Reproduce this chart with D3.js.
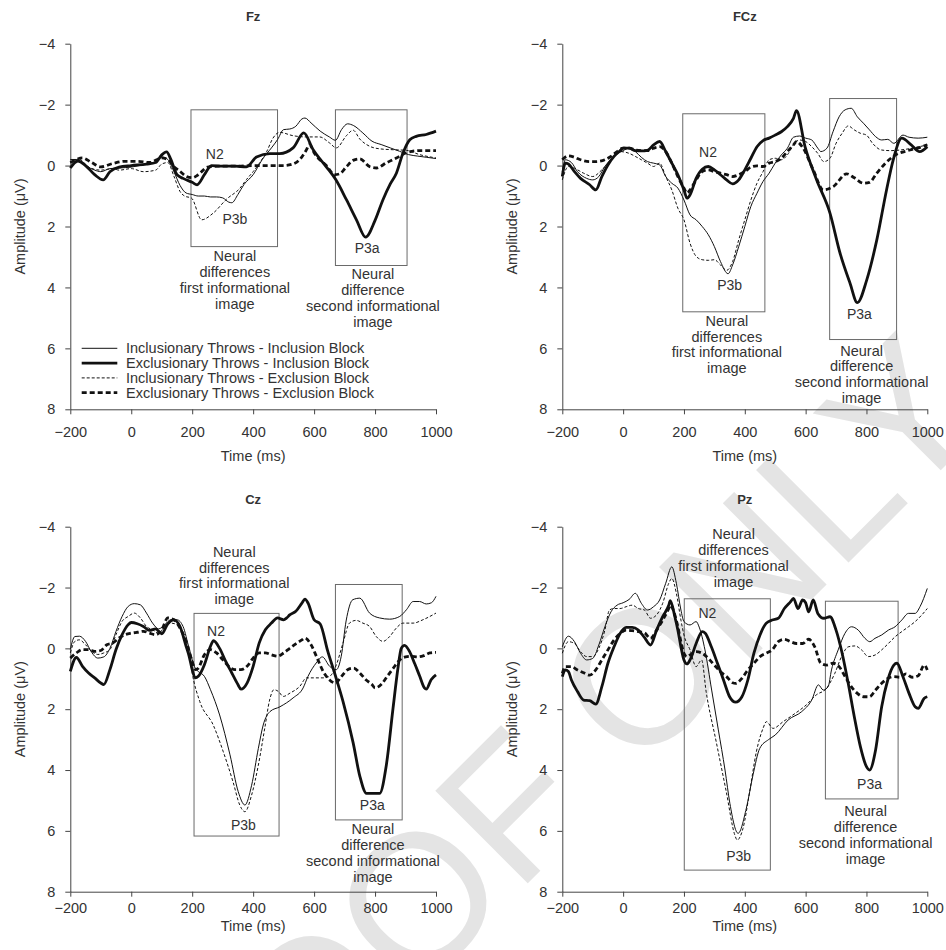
<!DOCTYPE html>
<html>
<head>
<meta charset="utf-8">
<script src="https://cdn.jsdelivr.net/npm/d3@7"></script>
<style>
  body { margin: 0; background: #fff; }
  text { font-family: "Liberation Sans", Arial, sans-serif; fill: #333; }
</style>
</head>
<body>
<svg id="chart" width="946" height="950"></svg>
<script>
// ---- data (time in ms, amplitude in µV; negative is plotted up) ----
const timeTicks = [-200, 0, 200, 400, 600, 800, 1000]
const ampTicks = [-4, -2, 0, 2, 4, 6, 8]
const seriesNames = [
  "Inclusionary Throws - Inclusion Block",
  "Exclusionary Throws - Inclusion Block",
  "Inclusionary Throws - Exclusion Block",
  "Exclusionary Throws - Exclusion Block"
]

// Fz
const fzIncInc = [[-200,-0.2],[-180,-0.2],[-150,0],[-120,0.15],[-100,0.2],[-70,0.1],[-40,0.08],[0,0.05],[50,-0.05],[80,-0.12],[100,-0.28],[120,-0.2],[140,0.2],[160,0.65],[180,0.9],[200,0.95],[220,1.0],[240,1.0],[260,1.03],[280,1.03],[300,1.06],[320,1.2],[330,1.22],[350,0.95],[370,0.62],[400,0.3],[430,-0.2],[460,-0.58],[480,-0.85],[500,-1.18],[520,-1.2],[540,-1.29],[560,-1.53],[570,-1.56],[590,-1.4],[620,-1.13],[650,-0.94],[670,-0.83],[690,-1.18],[710,-1.37],[730,-1.31],[760,-1.07],[790,-0.8],[820,-0.69],[850,-0.58],[880,-0.47],[910,-0.36],[940,-0.31],[970,-0.27],[1000,-0.23]]
const fzExcInc = [[-200,0.08],[-175,-0.15],[-150,0],[-120,0.3],[-92,0.47],[-70,0.2],[-40,0.05],[0,0],[50,-0.05],[80,-0.1],[100,-0.35],[116,-0.45],[130,-0.2],[150,0.3],[170,0.42],[200,0.55],[216,0.63],[240,0.3],[263,0],[300,0.02],[340,0.02],[378,0.04],[411,-0.28],[455,-0.39],[487,-0.39],[531,-0.58],[566,-1.07],[597,-0.52],[640,0.04],[671,0.46],[706,1.12],[739,1.78],[769,2.35],[800,1.8],[826,1.12],[850,0.6],[870,0.25],[892,-0.42],[914,-0.85],[935,-0.96],[968,-1.02],[1000,-1.13]]
const fzIncExc = [[-200,-0.1],[-170,-0.2],[-140,0.05],[-100,0.15],[-60,0.1],[-40,0.15],[0,0.1],[40,0.2],[80,0.15],[100,-0.05],[120,-0.1],[140,0.35],[160,0.85],[175,1.0],[198,1.07],[231,1.78],[269,1.56],[313,1.1],[356,0.75],[378,0.46],[400,0.2],[422,-0.1],[444,-0.45],[465,-0.9],[487,-1.09],[531,-0.98],[574,-0.94],[618,-0.94],[651,-0.74],[673,-0.58],[706,-0.98],[728,-1.16],[750,-0.87],[783,-0.63],[815,-0.55],[859,-0.52],[903,-0.5],[946,-0.36],[1000,-0.25]]
const fzExcExc = [[-200,-0.1],[-180,-0.2],[-160,-0.25],[-130,-0.1],[-100,0.04],[-60,-0.07],[-20,-0.14],[20,-0.14],[60,-0.1],[100,-0.25],[120,-0.2],[140,0.04],[160,0.19],[180,0.35],[200,0.4],[220,0.3],[250,0.05],[300,0.02],[350,0.02],[400,0],[450,0],[500,0],[530,-0.05],[553,-0.2],[574,-0.5],[585,-0.69],[600,-0.42],[640,0],[668,0.3],[684,0.27],[706,0.04],[728,-0.17],[750,-0.22],[783,0.04],[805,0.08],[837,-0.09],[870,-0.25],[903,-0.42],[946,-0.49],[1000,-0.49]]

// FCz
const fczIncInc = [[-200,0.2],[-190,-0.19],[-170,-0.1],[-150,0.2],[-120,0.42],[-100,0.47],[-80,0.36],[-60,0.03],[-30,-0.3],[0,-0.49],[20,-0.57],[40,-0.46],[60,-0.27],[80,-0.13],[100,-0.08],[120,-0.02],[140,0.36],[160,0.58],[180,0.74],[200,1.13],[220,1.62],[240,1.78],[260,2.0],[280,2.27],[300,2.66],[320,3.15],[345,3.55],[360,3.26],[380,2.66],[400,2.0],[420,1.34],[440,0.91],[460,0.52],[480,0.25],[500,-0.08],[520,-0.35],[540,-0.57],[560,-0.93],[580,-0.97],[600,-0.9],[620,-0.84],[640,-0.57],[650,-0.46],[670,-0.57],[690,-1.11],[710,-1.6],[730,-1.83],[750,-1.88],[770,-1.6],[790,-1.39],[810,-1.17],[830,-0.95],[850,-0.84],[870,-0.86],[890,-0.73],[920,-1.0],[940,-0.93],[970,-0.9],[1000,-0.93]]
const fczExcInc = [[-200,0.36],[-190,-0.08],[-180,-0.05],[-160,0.2],[-140,0.42],[-110,0.63],[-90,0.8],[-70,0.36],[-50,-0.02],[-30,-0.3],[-10,-0.49],[0,-0.57],[20,-0.57],[40,-0.49],[60,-0.48],[80,-0.5],[100,-0.68],[120,-0.79],[140,-0.46],[160,-0.08],[180,0.3],[200,0.8],[210,1.07],[220,0.96],[240,0.42],[260,0.12],[280,0.03],[300,0.14],[320,0.3],[340,0.47],[360,0.6],[380,0.47],[400,0.14],[420,-0.24],[440,-0.62],[460,-0.82],[480,-0.9],[500,-1.0],[520,-1.11],[540,-1.28],[560,-1.55],[570,-1.8],[598,-0.62],[636,0.47],[680,1.56],[713,2.87],[746,3.86],[770,4.5],[801,3.75],[834,2.44],[866,0.8],[888,-0.19],[916,-0.9],[947,-0.68],[975,-0.46],[1000,-0.62]]
const fczIncExc = [[-200,0.47],[-180,0.03],[-160,0.09],[-130,0.25],[-100,0.36],[-70,0.14],[-40,-0.19],[-10,-0.46],[20,-0.4],[40,-0.3],[60,-0.19],[80,-0.08],[100,0.03],[120,-0.08],[140,0.36],[160,0.8],[180,1.4],[200,1.78],[220,2.55],[240,2.98],[260,3.09],[280,3.11],[300,3.09],[320,3.26],[340,3.44],[360,3.15],[380,2.44],[400,1.78],[420,1.13],[440,0.58],[460,0.2],[480,-0.19],[500,-0.24],[520,-0.19],[540,-0.35],[560,-0.68],[580,-0.84],[600,-0.79],[620,-0.62],[640,-0.4],[660,-0.13],[680,-0.24],[700,-0.73],[720,-1.06],[740,-1.3],[760,-1.17],[780,-1.06],[800,-1.0],[820,-0.73],[850,-0.51],[880,-0.49],[910,-0.51],[950,-0.57],[1000,-0.68]]
const fczExcExc = [[-200,-0.19],[-180,-0.32],[-160,-0.27],[-140,-0.19],[-110,-0.13],[-90,-0.13],[-60,-0.19],[-40,-0.3],[-20,-0.46],[0,-0.57],[20,-0.57],[40,-0.51],[60,-0.49],[80,-0.49],[100,-0.57],[120,-0.62],[140,-0.46],[160,-0.08],[180,0.36],[200,0.74],[210,0.9],[220,0.8],[240,0.47],[260,0.2],[280,0.14],[300,0.2],[320,0.25],[340,0.3],[360,0.36],[380,0.3],[400,0.2],[420,0.05],[440,0.01],[460,0.03],[480,-0.08],[500,-0.13],[520,-0.24],[540,-0.46],[560,-0.68],[570,-0.79],[590,-0.6],[625,0.14],[658,0.8],[691,0.69],[735,0.27],[760,0.4],[790,0.58],[810,0.55],[834,0.25],[860,-0.05],[888,-0.3],[943,-0.51],[970,-0.58],[1000,-0.68]]

// Cz
const czIncInc = [[-200,0.04],[-185,-0.39],[-170,-0.4],[-150,-0.23],[-130,0.13],[-110,0.32],[-90,0.28],[-70,0],[-50,-0.56],[-30,-1.05],[-10,-1.38],[10,-1.47],[30,-1.43],[50,-1.16],[70,-0.83],[90,-0.64],[110,-0.78],[130,-0.94],[150,-0.94],[170,-0.72],[190,0],[210,0.65],[220,0.76],[240,0.92],[260,1.36],[290,2.19],[324,3.5],[351,4.71],[373,5.15],[395,4.5],[417,3.29],[433,2.52],[455,2.08],[488,1.92],[531,1.63],[564,1.3],[580,0.92],[607,0.48],[627,0.28],[651,0.59],[673,0.7],[689,0.26],[705,-0.9],[727,-1.6],[750,-1.65],[782,-1.16],[815,-1.0],[848,-0.96],[881,-1.05],[903,-1.27],[925,-1.54],[946,-1.54],[968,-1.46],[985,-1.5],[1000,-1.71]]
const czExcInc = [[-200,0.76],[-180,0.3],[-160,0.59],[-140,0.81],[-120,0.97],[-100,1.14],[-90,1.19],[-70,0.7],[-50,0.04],[-30,-0.45],[-10,-0.78],[0,-0.85],[20,-0.81],[40,-0.72],[60,-0.59],[80,-0.64],[100,-0.48],[120,-0.81],[140,-0.94],[160,-0.72],[180,-0.07],[190,0.26],[200,0.7],[210,0.97],[220,0.92],[240,0.54],[260,-0.07],[270,-0.25],[290,0],[310,0.43],[330,0.81],[350,1.19],[360,1.34],[380,1.14],[400,0.59],[420,-0.18],[440,-0.61],[460,-0.83],[480,-1.0],[500,-0.94],[510,-1.0],[520,-1.1],[540,-1.22],[560,-1.49],[570,-1.62],[580,-1.49],[600,-0.94],[620,-0.8],[645,0.1],[670,0.9],[695,1.75],[728,3.1],[750,4.2],[772,4.77],[815,4.77],[837,3.84],[859,1.97],[875,0.66],[886,0],[897,-0.1],[913,0.1],[930,0.5],[946,0.9],[962,1.3],[968,1.34],[984,1.03],[1000,0.87]]
const czIncExc = [[-200,0.15],[-185,-0.23],[-170,-0.28],[-150,-0.12],[-130,0.1],[-110,0.2],[-90,0.15],[-70,0.04],[-50,-0.45],[-30,-0.89],[-10,-1.05],[10,-1.16],[30,-1.0],[50,-0.72],[70,-0.61],[90,-0.5],[110,-0.72],[130,-0.83],[150,-0.78],[170,-0.5],[190,0.15],[200,0.81],[225,1.75],[269,2.52],[302,3.4],[334,4.39],[356,5.15],[373,5.37],[395,4.82],[417,3.84],[438,2.63],[454,1.7],[468,1.36],[482,1.41],[499,1.58],[521,1.47],[553,1.25],[575,0.97],[597,0.97],[629,0.97],[651,0.92],[673,0.54],[695,-0.18],[716,-0.83],[738,-0.92],[760,-0.83],[782,-0.72],[804,-0.39],[826,-0.23],[848,-0.39],[870,-0.67],[892,-0.83],[925,-0.83],[957,-0.94],[1000,-1.16]]
const czExcExc = [[-200,0.32],[-180,0.15],[-160,0.04],[-140,0.04],[-120,0.1],[-100,0.07],[-80,-0.12],[-60,-0.18],[-40,-0.34],[-20,-0.45],[0,-0.5],[20,-0.53],[40,-0.56],[60,-0.5],[80,-0.45],[100,-0.61],[120,-1.0],[140,-0.94],[160,-0.67],[180,-0.23],[200,0.43],[210,0.7],[220,0.65],[240,0.21],[260,0.04],[280,0.15],[300,0.37],[320,0.59],[340,0.7],[360,0.7],[380,0.59],[400,0.32],[420,0.15],[440,0.15],[460,0.21],[480,0.26],[500,0.15],[520,0],[540,-0.15],[560,-0.28],[570,-0.34],[590,-0.12],[610,0.32],[630,0.76],[650,1.03],[670,1.14],[690,0.92],[710,0.7],[730,0.65],[750,0.81],[770,1.03],[790,1.19],[800,1.3],[820,1.19],[840,0.92],[860,0.65],[880,0.39],[900,0.28],[920,0.26],[940,0.28],[960,0.24],[980,0.15],[1000,0.13]]

// Pz
const pzIncInc = [[-200,-0.05],[-180,-0.4],[-160,-0.22],[-140,0.16],[-120,0.38],[-100,0.33],[-80,-0.11],[-60,-0.71],[-40,-1.2],[-20,-1.42],[0,-1.5],[20,-1.61],[40,-1.81],[60,-1.48],[80,-1.26],[100,-1.37],[120,-1.59],[140,-2.14],[160,-2.68],[175,-2.14],[190,-1.26],[200,-0.88],[220,-0.77],[240,-0.88],[250,-0.7],[269,0.05],[291,1.37],[313,2.68],[335,4.0],[351,5.1],[378,6.08],[405,5.26],[427,4.16],[449,3.29],[478,3.0],[500,2.85],[543,2.35],[587,2.08],[620,1.7],[642,1.2],[658,1.37],[674,1.26],[685,0.71],[707,0.05],[729,-0.49],[751,-0.71],[773,-0.6],[795,-0.33],[811,-0.22],[828,-0.33],[850,-0.44],[872,-0.6],[894,-0.71],[916,-0.93],[938,-1.15],[960,-1.15],[976,-1.37],[1000,-1.97]]
const pzExcInc = [[-200,0.93],[-190,0.71],[-180,0.76],[-170,1.04],[-150,1.42],[-130,1.7],[-110,1.72],[-90,1.83],[-70,1.26],[-50,0.49],[-30,-0.05],[-10,-0.49],[10,-0.69],[30,-0.69],[50,-0.6],[70,-0.36],[90,-0.11],[110,-0.6],[130,-1.04],[150,-1.42],[155,-1.57],[170,-1.04],[180,-0.6],[190,-0.05],[200,0.38],[210,0.51],[220,0.38],[240,-0.16],[260,-0.55],[270,-0.5],[290,-0.05],[310,0.49],[330,1.04],[350,1.59],[370,1.77],[390,1.6],[410,1.04],[430,0.16],[450,-0.44],[470,-0.82],[490,-0.93],[510,-0.99],[530,-1.31],[550,-1.53],[560,-1.64],[575,-1.31],[590,-1.59],[600,-1.5],[610,-1.2],[625,-1.59],[640,-1.15],[660,-0.99],[680,-1.04],[700,-0.6],[720,0.16],[740,1.15],[760,2.25],[780,3.23],[800,3.89],[810,4.0],[830,3.34],[850,1.92],[870,1.04],[890,0.55],[900,0.49],[920,0.93],[940,1.48],[960,1.92],[970,1.97],[990,1.64],[1000,1.59]]
const pzIncExc = [[-200,0.16],[-180,-0.22],[-160,-0.16],[-140,0.11],[-120,0.27],[-100,0.27],[-80,0],[-60,-0.6],[-45,-1.26],[-30,-1.31],[-10,-1.31],[10,-1.37],[30,-1.42],[50,-1.31],[70,-1.26],[90,-0.99],[110,-1.1],[130,-1.48],[150,-2.14],[160,-2.3],[175,-1.81],[190,-0.93],[200,-0.44],[220,0.05],[240,0.6],[258,0.38],[273,1.43],[306,3.07],[339,4.71],[367,6.13],[375,6.3],[394,5.92],[416,4.71],[438,3.4],[460,2.63],[471,2.41],[493,2.63],[526,2.41],[558,2.19],[602,1.86],[635,1.53],[668,1.32],[696,0.82],[718,0.27],[740,-0.05],[762,-0.08],[784,0.05],[806,0.27],[828,0.22],[850,0.05],[872,-0.16],[894,-0.38],[916,-0.55],[938,-0.71],[960,-0.88],[982,-1.1],[1000,-1.31]]
const pzExcExc = [[-200,0.82],[-190,0.6],[-170,0.6],[-150,0.71],[-130,0.8],[-110,0.88],[-90,0.71],[-70,0.38],[-50,0.05],[-30,-0.27],[-10,-0.49],[10,-0.6],[30,-0.58],[50,-0.55],[70,-0.51],[90,-0.33],[110,-0.6],[130,-0.93],[150,-1.31],[155,-1.42],[170,-1.1],[180,-0.71],[190,-0.22],[200,0.16],[210,0.27],[220,0.22],[240,0.11],[260,0.16],[280,0.33],[300,0.55],[320,0.77],[340,0.93],[360,1.13],[370,1.15],[390,0.99],[410,0.71],[430,0.49],[450,0.27],[470,0.16],[490,0.05],[510,-0.22],[530,-0.3],[550,-0.22],[570,-0.16],[590,-0.16],[610,-0.3],[630,-0.05],[650,0.49],[670,0.55],[690,0.49],[710,0.6],[730,0.93],[750,1.26],[770,1.48],[790,1.59],[810,1.59],[830,1.37],[850,1.15],[870,0.99],[890,0.93],[910,0.95],[930,0.84],[950,0.95],[970,0.9],[990,0.55],[1000,0.71]]

// highlighted windows: [t start, t end, top µV, bottom µV]
const fzBoxes = [[196, 480, -1.83, 2.66], [670, 905, -1.83, 3.28]]
const fczBoxes = [[196, 466, -1.7, 4.8], [679, 899, -2.2, 5.71]]
const czBoxes = [[206, 485, -1.15, 6.17], [670, 889, -2.1, 5.64]]
const pzBoxes = [[201, 484, -1.63, 7.29], [665, 904, -1.55, 4.95]]

const firstWindowText = ["Neural", "differences", "first informational", "image"]
const secondWindowText = ["Neural", "difference", "second informational", "image"]

// ---- layout ----
const lineStyles = [
  { width: 1, dash: null },
  { width: 2.8, dash: null },
  { width: 1, dash: "3,2" },
  { width: 2.8, dash: "5,3" }
]

const panels = [
  { title: "Fz", left: 70.3, right: 436, top: 43.7, bottom: 409.3, series: [fzIncInc, fzExcInc, fzIncExc, fzExcExc], boxes: fzBoxes,
    tickPad: 12, timeLabelY: 461, legend: true,
    peaks: [["N2", 274, -0.37], ["P3b", 340, 1.75], ["P3a", 774, 2.71]],
    notes: [[340, 2.98, firstWindowText], [793, 3.56, secondWindowText]] },
  { title: "FCz", left: 562.3, right: 927.3, top: 43.7, bottom: 409.3, series: [fczIncInc, fczExcInc, fczIncExc, fczExcExc], boxes: fczBoxes,
    tickPad: 12, timeLabelY: 461, legend: false,
    peaks: [["N2", 279, -0.44], ["P3b", 350, 3.93], ["P3a", 777, 4.86]],
    notes: [[341, 5.09, firstWindowText], [784, 6.07, secondWindowText]] },
  { title: "Cz", left: 70.3, right: 436, top: 526.7, bottom: 891.7, series: [czIncInc, czExcInc, czIncExc, czExcExc], boxes: czBoxes,
    tickPad: 6, timeLabelY: 930.5, legend: false,
    peaks: [["N2", 278, -0.57], ["P3b", 368, 5.81], ["P3a", 791, 5.15]],
    notes: [[338, -3.18, firstWindowText], [793, 5.95, secondWindowText]] },
  { title: "Pz", left: 562.3, right: 927.3, top: 526.7, bottom: 891.7, series: [pzIncInc, pzExcInc, pzIncExc, pzExcExc], boxes: pzBoxes,
    tickPad: 6, timeLabelY: 930.5, legend: false,
    peaks: [["N2", 277, -1.15], ["P3b", 380, 6.83], ["P3a", 810, 4.47]],
    notes: [[363, -3.75, firstWindowText], [797, 5.35, secondWindowText]] }
]

const svg = d3.select("#chart")

// faint diagonal watermark behind the charts
svg.append("text")
  .attr("transform", "translate(121,1290) rotate(-45)")
  .style("font-size", "190px")
  .style("fill", "#e4e4e4")
  .text("PROOF ONLY")

panels.forEach(p => {
  const x = d3.scaleLinear().domain([-200, 1000]).range([p.left, p.right])
  const y = d3.scaleLinear().domain([-4, 8]).range([p.top, p.bottom])
  const g = svg.append("g")

  // windows
  g.selectAll("rect.win")
    .data(p.boxes)
    .join("rect")
    .attr("class", "win")
    .attr("x", d => x(d[0]))
    .attr("y", d => y(d[2]))
    .attr("width", d => x(d[1]) - x(d[0]))
    .attr("height", d => y(d[3]) - y(d[2]))
    .attr("fill", "none")
    .attr("stroke", "#6a6a6a")
    .attr("stroke-width", 1)

  // axes
  const fmt = d3.format("d")
  const yAxis = g.append("g")
    .attr("transform", `translate(${p.left},0)`)
    .call(d3.axisLeft(y).tickValues(ampTicks).tickFormat(fmt).tickSize(5).tickSizeOuter(0).tickPadding(10))
  const xAxis = g.append("g")
    .attr("transform", `translate(0,${p.bottom})`)
    .call(d3.axisBottom(x).tickValues(timeTicks).tickFormat(fmt).tickSize(5).tickSizeOuter(0).tickPadding(p.tickPad))
  ;[yAxis, xAxis].forEach(a => {
    a.selectAll("path, line").attr("stroke", "#444")
    a.selectAll("text").style("font-size", "14.5px").style("fill", "#333")
  })

  // ERP waveforms
  const line = d3.line()
    .x(d => x(d[0]))
    .y(d => y(d[1]))
    .curve(d3.curveMonotoneX)
  p.series.forEach((s, i) => {
    g.append("path")
      .datum(s)
      .attr("d", line)
      .attr("fill", "none")
      .attr("stroke", "#111")
      .attr("stroke-width", lineStyles[i].width)
      .attr("stroke-dasharray", lineStyles[i].dash)
      .attr("stroke-linejoin", "round")
  })

  // component labels
  g.selectAll("text.peak")
    .data(p.peaks)
    .join("text")
    .attr("class", "peak")
    .attr("x", d => x(d[1]))
    .attr("y", d => y(d[2]))
    .attr("dy", "0.35em")
    .attr("text-anchor", "middle")
    .style("font-size", "14px")
    .text(d => d[0])

  // window descriptions
  p.notes.forEach(n => {
    g.append("text")
      .attr("text-anchor", "middle")
      .style("font-size", "14.5px")
      .selectAll("tspan")
      .data(n[2])
      .join("tspan")
      .attr("x", x(n[0]))
      .attr("y", (d, i) => y(n[1]) + i * 15.8)
      .attr("dy", "0.35em")
      .text(d => d)
  })

  // titles
  g.append("text")
    .attr("x", (p.left + p.right) / 2)
    .attr("y", p.top - 23)
    .attr("text-anchor", "middle")
    .style("font-size", "13px")
    .style("font-weight", "bold")
    .text(p.title)
  g.append("text")
    .attr("x", (p.left + p.right) / 2)
    .attr("y", p.timeLabelY)
    .attr("text-anchor", "middle")
    .style("font-size", "14.5px")
    .text("Time (ms)")
  g.append("text")
    .attr("transform", `translate(${p.left - 50.5},${(p.top + p.bottom) / 2}) rotate(-90)`)
    .attr("dy", "0.35em")
    .attr("text-anchor", "middle")
    .style("font-size", "14.5px")
    .text("Amplitude (\u03BCV)")

  if (p.legend) {
    const lg = g.append("g").attr("transform", `translate(${p.left + 11.4},348.3)`)
    seriesNames.forEach((name, i) => {
      const row = lg.append("g").attr("transform", `translate(0,${i * 14.8})`)
      row.append("line")
        .attr("x1", 0).attr("x2", 35.6)
        .attr("stroke", "#111")
        .attr("stroke-width", lineStyles[i].width)
        .attr("stroke-dasharray", lineStyles[i].dash)
      row.append("text")
        .attr("x", 44.3)
        .attr("dy", "0.35em")
        .style("font-size", "14.5px")
        .text(name)
    })
  }
})
</script>
</body>
</html>
